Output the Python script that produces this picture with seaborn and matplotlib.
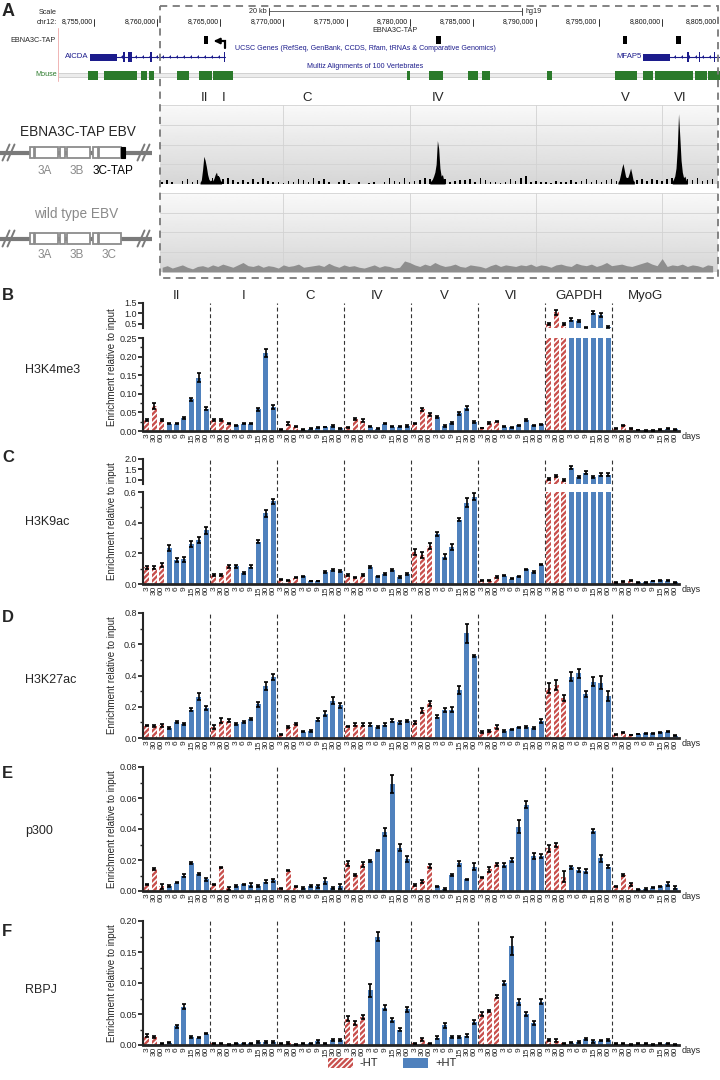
import numpy as np
import pandas as pd
import matplotlib
matplotlib.use("Agg")
import matplotlib.pyplot as plt
import seaborn as sns
from matplotlib.patches import Rectangle, Patch
from matplotlib.ticker import MultipleLocator, FormatStrFormatter, FixedLocator, NullLocator
from matplotlib.transforms import blended_transform_factory

# ======================= DATA =======================
REGIONS = ["II", "I", "C", "IV", "V", "VI", "GAPDH", "MyoG"]
DAYS = ["3", "30", "60", "3", "6", "9", "15", "30", "60"]
TREATMENT = ["-HT"] * 3 + ["+HT"] * 6

H3K4ME3 = [
    [0.03, 0.067, 0.03, 0.02, 0.02, 0.035, 0.085, 0.143, 0.06],
    [0.03, 0.03, 0.02, 0.015, 0.02, 0.02, 0.058, 0.21, 0.065],
    [0.004, 0.02, 0.012, 0.004, 0.006, 0.009, 0.011, 0.013, 0.007],
    [0.01, 0.033, 0.028, 0.012, 0.006, 0.02, 0.012, 0.012, 0.013],
    [0.02, 0.058, 0.045, 0.038, 0.013, 0.022, 0.048, 0.062, 0.025],
    [0.008, 0.022, 0.025, 0.012, 0.01, 0.015, 0.03, 0.015, 0.018],
    [0.5, 1.05, 0.5, 0.7, 0.62, 0.32, 1.03, 0.93, 0.35],
    [0.006, 0.015, 0.006, 0.003, 0.002, 0.002, 0.004, 0.006, 0.005],
]
H3K4ME3_ERR = [
    [0.002, 0.007, 0.002, 0.002, 0.002, 0.003, 0.004, 0.012, 0.004],
    [0.002, 0.002, 0.002, 0.002, 0.002, 0.002, 0.004, 0.01, 0.005],
    [0.001, 0.003, 0.002, 0.001, 0.001, 0.001, 0.001, 0.002, 0.001],
    [0.001, 0.003, 0.003, 0.002, 0.001, 0.002, 0.001, 0.002, 0.002],
    [0.001, 0.005, 0.004, 0.003, 0.002, 0.002, 0.004, 0.005, 0.003],
    [0.001, 0.002, 0.002, 0.001, 0.001, 0.001, 0.002, 0.001, 0.002],
    [0.05, 0.12, 0.05, 0.06, 0.05, 0.02, 0.07, 0.08, 0.03],
    [0.001, 0.002, 0.001, 0.001, 0.001, 0.001, 0.001, 0.001, 0.001],
]
H3K9AC = [
    [0.11, 0.105, 0.125, 0.236, 0.155, 0.16, 0.26, 0.285, 0.35],
    [0.058, 0.06, 0.115, 0.115, 0.07, 0.113, 0.275, 0.46, 0.54],
    [0.03, 0.025, 0.04, 0.05, 0.02, 0.02, 0.08, 0.09, 0.085],
    [0.06, 0.04, 0.06, 0.11, 0.05, 0.065, 0.09, 0.045, 0.065],
    [0.21, 0.19, 0.25, 0.325, 0.178, 0.243, 0.42, 0.53, 0.57],
    [0.02, 0.02, 0.045, 0.055, 0.035, 0.05, 0.095, 0.08, 0.125],
    [1.03, 1.17, 1.0, 1.59, 1.14, 1.34, 1.14, 1.25, 1.25],
    [0.01, 0.015, 0.02, 0.01, 0.01, 0.02, 0.025, 0.02, 0.01],
]
H3K9AC_ERR = [
    [0.01, 0.01, 0.015, 0.02, 0.012, 0.015, 0.02, 0.02, 0.025],
    [0.006, 0.008, 0.01, 0.01, 0.006, 0.01, 0.01, 0.025, 0.015],
    [0.003, 0.003, 0.004, 0.004, 0.002, 0.002, 0.005, 0.006, 0.005],
    [0.006, 0.004, 0.006, 0.006, 0.004, 0.005, 0.006, 0.004, 0.006],
    [0.02, 0.02, 0.02, 0.012, 0.015, 0.02, 0.01, 0.03, 0.025],
    [0.003, 0.003, 0.004, 0.005, 0.003, 0.004, 0.005, 0.005, 0.004],
    [0.05, 0.05, 0.04, 0.08, 0.05, 0.06, 0.05, 0.07, 0.08],
    [0.002, 0.002, 0.003, 0.002, 0.002, 0.002, 0.003, 0.003, 0.002],
]
H3K27AC = [
    [0.08, 0.078, 0.082, 0.066, 0.102, 0.09, 0.182, 0.265, 0.192],
    [0.07, 0.112, 0.112, 0.092, 0.1, 0.123, 0.215, 0.335, 0.39],
    [0.022, 0.072, 0.09, 0.04, 0.045, 0.118, 0.155, 0.24, 0.21],
    [0.075, 0.085, 0.085, 0.085, 0.07, 0.085, 0.11, 0.1, 0.11],
    [0.102, 0.178, 0.222, 0.137, 0.178, 0.182, 0.305, 0.67, 0.526],
    [0.04, 0.045, 0.072, 0.045, 0.055, 0.068, 0.072, 0.066, 0.11],
    [0.32, 0.34, 0.255, 0.393, 0.413, 0.28, 0.36, 0.355, 0.27],
    [0.025, 0.034, 0.019, 0.025, 0.03, 0.03, 0.036, 0.04, 0.015],
]
H3K27AC_ERR = [
    [0.005, 0.008, 0.01, 0.006, 0.008, 0.007, 0.01, 0.02, 0.01],
    [0.012, 0.015, 0.01, 0.006, 0.006, 0.008, 0.015, 0.025, 0.02],
    [0.003, 0.006, 0.006, 0.003, 0.004, 0.01, 0.015, 0.025, 0.015],
    [0.005, 0.01, 0.01, 0.01, 0.005, 0.01, 0.01, 0.008, 0.008],
    [0.01, 0.015, 0.015, 0.008, 0.012, 0.015, 0.025, 0.06, 0.008],
    [0.006, 0.006, 0.012, 0.006, 0.005, 0.005, 0.006, 0.006, 0.012],
    [0.03, 0.03, 0.02, 0.03, 0.03, 0.02, 0.03, 0.04, 0.03],
    [0.003, 0.003, 0.002, 0.002, 0.002, 0.002, 0.003, 0.003, 0.002],
]
P300 = [
    [0.004, 0.0142, 0.003, 0.0033, 0.0053, 0.0098, 0.0183, 0.0107, 0.0077],
    [0.0043, 0.0153, 0.0017, 0.0033, 0.0043, 0.0039, 0.0033, 0.006, 0.007],
    [0.0017, 0.013, 0.003, 0.002, 0.003, 0.003, 0.0066, 0.002, 0.003],
    [0.0178, 0.0103, 0.0172, 0.0194, 0.026, 0.038, 0.069, 0.028, 0.0206],
    [0.0039, 0.0064, 0.016, 0.003, 0.0012, 0.0103, 0.0178, 0.0075, 0.0158],
    [0.0086, 0.014, 0.0173, 0.017, 0.02, 0.0415, 0.0558, 0.0225, 0.0225],
    [0.0275, 0.0296, 0.0092, 0.0153, 0.0136, 0.0131, 0.0386, 0.021, 0.0158],
    [0.003, 0.0103, 0.0043, 0.0011, 0.0013, 0.0022, 0.003, 0.0045, 0.002],
]
P300_ERR = [
    [0.0004, 0.0005, 0.0015, 0.0005, 0.0004, 0.001, 0.0006, 0.0006, 0.001],
    [0.0004, 0.0005, 0.001, 0.0004, 0.0004, 0.001, 0.0004, 0.001, 0.001],
    [0.0003, 0.0004, 0.0005, 0.0004, 0.0006, 0.0008, 0.002, 0.0008, 0.0015],
    [0.0015, 0.0005, 0.0015, 0.0008, 0.0003, 0.0025, 0.006, 0.0025, 0.002],
    [0.0005, 0.001, 0.0012, 0.0005, 0.0005, 0.0005, 0.0015, 0.0005, 0.002],
    [0.0005, 0.0015, 0.001, 0.0012, 0.0012, 0.004, 0.0025, 0.002, 0.0012],
    [0.0025, 0.0015, 0.0035, 0.001, 0.0012, 0.0012, 0.0015, 0.0025, 0.001],
    [0.0003, 0.0004, 0.0008, 0.0003, 0.0004, 0.0005, 0.0004, 0.0012, 0.001],
]
RBPJ = [
    [0.015, 0.013, 0.002, 0.004, 0.03, 0.062, 0.013, 0.012, 0.018],
    [0.003, 0.002, 0.001, 0.003, 0.003, 0.003, 0.005, 0.005, 0.005],
    [0.002, 0.003, 0.001, 0.002, 0.003, 0.006, 0.002, 0.008, 0.008],
    [0.042, 0.035, 0.045, 0.088, 0.175, 0.06, 0.04, 0.025, 0.058],
    [0.003, 0.009, 0.003, 0.012, 0.032, 0.013, 0.013, 0.015, 0.037],
    [0.05, 0.055, 0.078, 0.1, 0.16, 0.07, 0.05, 0.036, 0.07],
    [0.008, 0.007, 0.003, 0.004, 0.005, 0.01, 0.006, 0.007, 0.008],
    [0.002, 0.002, 0.001, 0.002, 0.002, 0.001, 0.002, 0.003, 0.001],
]
RBPJ_ERR = [
    [0.002, 0.002, 0.001, 0.001, 0.003, 0.004, 0.002, 0.001, 0.001],
    [0.001, 0.001, 0.001, 0.001, 0.001, 0.001, 0.001, 0.001, 0.001],
    [0.001, 0.002, 0.001, 0.001, 0.001, 0.002, 0.001, 0.001, 0.001],
    [0.004, 0.003, 0.003, 0.01, 0.008, 0.004, 0.003, 0.002, 0.004],
    [0.001, 0.002, 0.001, 0.002, 0.004, 0.002, 0.002, 0.002, 0.003],
    [0.003, 0.002, 0.002, 0.004, 0.015, 0.005, 0.003, 0.003, 0.004],
    [0.002, 0.002, 0.001, 0.001, 0.001, 0.002, 0.002, 0.001, 0.002],
    [0.001, 0.001, 0.001, 0.001, 0.001, 0.001, 0.001, 0.001, 0.001],
]

# ---- genome browser data (positions in kb on chr12, hg19) ----
COORD_TICKS_KB = [8755, 8760, 8765, 8770, 8775, 8780, 8785, 8790, 8795, 8800, 8805]
COORD_LABELS = ["8,755,000", "8,760,000", "8,765,000", "8,770,000", "8,775,000", "8,780,000",
                "8,785,000", "8,790,000", "8,795,000", "8,800,000", "8,805,000"]
SCALE_BAR_KB = (8768.9, 8788.9)
TAP_SITES_KB = [(8763.7, 8764.0), (8782.1, 8782.5), (8796.9, 8797.2), (8801.1, 8801.5)]
AICDA_SPAN_KB = (8754.68, 8765.38)
AICDA_EXONS_KB = [(8754.68, 8756.82), (8757.3, 8757.45), (8757.7, 8758.0), (8759.44, 8759.6), (8765.28, 8765.38)]
MFAP5_SPAN_KB = (8798.5, 8806.0)
MFAP5_EXONS_KB = [(8798.5, 8800.6), (8802.0, 8802.12), (8802.9, 8803.02), (8804.1, 8804.2)]
MOUSE_BLOCKS_KB = [(8754.52, 8755.32), (8755.79, 8758.41), (8758.72, 8759.2), (8759.36, 8759.75),
                   (8761.57, 8762.52), (8763.32, 8764.35), (8764.43, 8766.01), (8779.79, 8780.03),
                   (8781.53, 8782.64), (8784.62, 8785.42), (8785.73, 8786.37), (8790.88, 8791.28),
                   (8796.27, 8798.01), (8798.48, 8799.28), (8799.44, 8802.45), (8802.61, 8803.56),
                   (8803.64, 8804.6)]
TRACK_GRID_KB = [8770, 8780, 8790, 8800]
TRACK_REGION_LABELS = ["II", "I", "C", "IV", "V", "VI"]
TRACK_REGION_KB = [8763.79, 8765.30, 8771.87, 8782.25, 8797.06, 8801.42]

# ChIP-seq signal (fraction of track height, in percent), sampled every 0.4 kb from 8760.4 kb
NOISE_START_KB = 8760.4
NOISE_STEP_KB = 0.4
TAP_NOISE = [2, 5, 3, 0, 4, 6, 3, 5, 4, 6, 8, 10, 6, 8, 5, 3, 5, 2, 6, 3, 8, 4, 2, 3,
             1, 4, 2, 6, 5, 3, 7, 4, 6, 3, 0, 2, 5, 1, 0, 3, 0, 1, 3, 0, 2, 7, 4, 3,
             8, 2, 4, 5, 8, 6, 6, 4, 6, 2, 4, 5, 5, 6, 3, 7, 5, 3, 2, 1, 3, 6, 4, 7,
             10, 2, 4, 2, 3, 1, 4, 2, 3, 5, 2, 4, 6, 3, 5, 2, 5, 6, 4, 6, 7, 8, 5, 6,
             4, 6, 5, 4, 6, 7, 6, 8, 6, 5, 7, 4, 5, 6]
WT_NOISE = [6, 8, 5, 7, 9, 6, 4, 7, 8, 6, 9, 7, 10, 8, 6, 9, 12, 8, 7, 9,
            6, 8, 7, 5, 9, 7, 8, 10, 6, 7, 8, 9, 7, 11, 8, 6, 9, 7, 8, 6,
            5, 7, 9, 6, 8, 7, 5, 6, 14, 12, 9, 7, 10, 8, 12, 9, 7, 8, 10, 7,
            6, 9, 8, 7, 5, 8, 10, 7, 9, 8, 7, 9, 8, 10, 7, 9, 8, 6, 9, 10,
            8, 7, 11, 9, 8, 10, 7, 9, 12, 8, 9, 10, 8, 7, 9, 11, 13, 10, 8, 17,
            7, 9, 8, 10, 7, 9, 8, 6, 9, 8]
PEAK_STEP_KB = 0.1
PEAK_STARTS_KB = [8763.4, 8781.6, 8796.5, 8800.8]
PEAK_PROFILES = [
    [0.02, 0.05, 0.18, 0.35, 0.30, 0.22, 0.12, 0.06, 0.04, 0.05, 0.04, 0.07, 0.12, 0.15, 0.08, 0.10, 0.05, 0.03],
    [0.02, 0.04, 0.06, 0.10, 0.15, 0.25, 0.55, 0.45, 0.20, 0.10, 0.12, 0.05, 0.03],
    [0.02, 0.05, 0.12, 0.20, 0.26, 0.18, 0.10, 0.07, 0.09, 0.14, 0.20, 0.13, 0.05, 0.03],
    [0.03, 0.06, 0.10, 0.20, 0.45, 0.89, 0.60, 0.30, 0.15, 0.08, 0.10, 0.05, 0.03],
]

# ======================= STYLE / LAYOUT =======================
sns.set_theme(style="ticks")
plt.rcParams["font.family"] = ["Liberation Sans", "DejaVu Sans"]
plt.rcParams["hatch.linewidth"] = 1.7

BLUE = "#4f81bd"
RED = "#c8504d"
NAVY = "#1c1c8c"
GREEN = "#2b7a2b"
HATCH = "//////"

W, H = 720, 1080
fig = plt.figure(figsize=(7.2, 10.8), dpi=100)


def rect(x0, y0, x1, y1):
    return [x0 / W, 1 - y1 / H, (x1 - x0) / W, (y1 - y0) / H]


def kb_at(px):
    return 8755 + (px - 94) / 12.625


def flat(groups):
    return [v for g in groups for v in g]


# ---------------- genome browser (panel A top) ----------------
axg = fig.add_axes(rect(0, 0, 720, 90))
axg.set_xlim(kb_at(0), kb_at(720))
axg.set_ylim(90, 0)
axg.axis("off")
axg.patch.set_alpha(0)

for kbv, lab in zip(COORD_TICKS_KB, COORD_LABELS):
    axg.text(min(kbv - 0.12, kb_at(717)), 22, lab, ha="right", va="center", fontsize=5, color="#111")
    axg.plot([kbv, kbv], [18.5, 25.5], color="#111", lw=0.6, clip_on=True)
axg.plot(SCALE_BAR_KB, [11, 11], color="#666", lw=0.7)
for kbv in SCALE_BAR_KB:
    axg.plot([kbv, kbv], [8, 14.5], color="#444", lw=0.7)
axg.text(SCALE_BAR_KB[0] - 0.2, 11.5, "20 kb", ha="right", va="center", fontsize=5.2)
axg.text(SCALE_BAR_KB[1] + 0.25, 11.5, "hg19", ha="left", va="center", fontsize=5.2)
axg.text(8778.85, 30.5, "EBNA3C-TAP", ha="center", va="center", fontsize=5.2)
for s, e in TAP_SITES_KB:
    axg.add_patch(Rectangle((s, 35.5), e - s, 8, color="black", lw=0))
axg.text(8776.5, 48.5, "UCSC Genes (RefSeq, GenBank, CCDS, Rfam, tRNAs & Comparative Genomics)",
         ha="center", va="center", fontsize=5.1, color=NAVY)
axg.text(8776.5, 66.5, "Multiz Alignments of 100 Vertebrates", ha="center", va="center",
         fontsize=5.1, color=NAVY)
# genes
for span, exons, lab in ((AICDA_SPAN_KB, AICDA_EXONS_KB, "AICDA"), (MFAP5_SPAN_KB, MFAP5_EXONS_KB, "MFAP5")):
    axg.plot(span, [57, 57], color=NAVY, lw=0.8, clip_on=True)
    chev = np.arange(span[0] + 0.4, min(span[1], kb_at(720)) - 0.2, 0.55)
    axg.plot(chev, [57] * len(chev), ls="none", marker=8, ms=2.2, color=NAVY, mew=0)
    for i, (s, e) in enumerate(exons):
        hgt = 7 if i == 0 else 10
        axg.add_patch(Rectangle((s, 57 - hgt / 2), e - s, hgt, color=NAVY, lw=0))
    axg.text(span[0] - 0.15, 57, lab, ha="right", va="center", fontsize=5.6, color=NAVY)
# mouse conservation
axg.add_patch(Rectangle((kb_at(58), 73.3), kb_at(720) - kb_at(58), 3.4, facecolor="#ececec",
                        edgecolor="#c4c4c4", lw=0.5))
for s, e in MOUSE_BLOCKS_KB:
    axg.add_patch(Rectangle((s, 70.5), e - s, 9, color=GREEN, lw=0))

# ---------------- ChIP-seq tracks ----------------
def track_axes(y0, y1):
    ax = fig.add_axes(rect(160, y0, 718, y1))
    x0, x1 = kb_at(160), kb_at(718)
    grad = np.linspace(0.84, 0.975, 64)[:, None]
    ax.imshow(grad, extent=(x0, x1, 0, 1), origin="lower", aspect="auto", cmap="gray",
              vmin=0, vmax=1, zorder=0)
    for f in (0.25, 0.5, 0.75, 1.0):
        ax.axhline(f, color="#d2d2d2", lw=0.6, zorder=1)
    for g in TRACK_GRID_KB:
        ax.axvline(g, color="#d2d2d2", lw=0.6, zorder=1)
    ax.set_xlim(x0, x1)
    ax.set_ylim(0, 1.0)
    ax.axis("off")
    return ax


noise_x = NOISE_START_KB + NOISE_STEP_KB * np.arange(len(TAP_NOISE))
at1 = track_axes(105, 184)
at1.bar(noise_x, np.array(TAP_NOISE) / 100, width=0.13, color="black", lw=0, zorder=2)
for start, prof in zip(PEAK_STARTS_KB, PEAK_PROFILES):
    px_ = start + PEAK_STEP_KB * np.arange(len(prof))
    at1.fill_between(px_, 0, prof, color="black", lw=0, zorder=3)
trans = blended_transform_factory(at1.transData, at1.transAxes)
for lab, kbv in zip(TRACK_REGION_LABELS, TRACK_REGION_KB):
    at1.text(kbv, 1.09, lab, transform=trans, ha="center", va="center", fontsize=9.5, clip_on=False)

at2 = track_axes(193, 272)
at2.fill_between(noise_x, 0, np.array(WT_NOISE) / 100, color="#8e8e8e", lw=0, zorder=2)

# ---------------- bar panels ----------------
def bar_panel(ax, groups, err_groups, ylim, major, minor, fmt, lower=True, ticks=None):
    vals = flat(groups)
    errs = flat(err_groups)
    df = pd.DataFrame({"slot": np.arange(len(vals)), "value": vals,
                       "treatment": TREATMENT * len(REGIONS)})
    sns.barplot(data=df, x="slot", y="value", hue="treatment", hue_order=["-HT", "+HT"],
                palette={"-HT": "white", "+HT": BLUE}, dodge=False, width=0.68,
                errorbar=None, saturation=1, legend=False, ax=ax, zorder=2)
    for p in ax.patches:
        if tuple(np.round(p.get_facecolor()[:3], 3)) == (1.0, 1.0, 1.0):
            p.set_edgecolor(RED)
            p.set_hatch(HATCH)
        p.set_linewidth(0)
    ax.errorbar(df["slot"], df["value"], yerr=errs, fmt="none", ecolor="black",
                elinewidth=1.2, capsize=1.5, capthick=1.2, zorder=4)
    ax.set_xlim(-0.5, len(vals) - 0.5)
    ax.set_ylim(*ylim)
    ax.set_xlabel("")
    ax.set_ylabel("")
    ax.set_facecolor("none")
    ax.spines["top"].set_visible(False)
    ax.spines["right"].set_visible(False)
    ax.spines["left"].set_linewidth(1.5)
    if ticks is not None:
        ax.yaxis.set_major_locator(FixedLocator(ticks))
        ax.yaxis.set_minor_locator(NullLocator())
    else:
        ax.yaxis.set_major_locator(MultipleLocator(major))
        ax.yaxis.set_minor_locator(MultipleLocator(minor))
    ax.yaxis.set_major_formatter(FormatStrFormatter(fmt))
    ax.tick_params(axis="y", which="major", length=3.5, width=1.3, labelsize=6.5, pad=1, left=True)
    ax.tick_params(axis="y", which="minor", length=2, width=1.0, left=True)
    if lower:
        ax.spines["bottom"].set_linewidth(2.0)
        ax.set_xticks(range(len(vals)))
        ax.set_xticklabels(DAYS * len(REGIONS), rotation=90, fontsize=6)
        ax.tick_params(axis="x", length=0, pad=1.5, bottom=True)
        ax.text(1.004, -0.012, "days", transform=ax.transAxes, ha="left", va="top", fontsize=6.5)
    else:
        ax.spines["bottom"].set_visible(False)
        ax.set_xticks([])
    return ax


def separators(ax, extend=1.0):
    for b in range(1, len(REGIONS)):
        ax.axvline(9 * b - 0.5, ymin=0, ymax=extend, color="#333", lw=0.8,
                   ls=(0, (3.5, 2.5)), zorder=1, clip_on=False)


# B: H3K4me3 (broken axis)
axB = fig.add_axes(rect(143, 338, 679, 431))
bar_panel(axB, H3K4ME3, H3K4ME3_ERR, (0, 0.25), 0.05, 0.025, "%.2f")
separators(axB, extend=(431 - 303) / (431 - 338))
axBt = fig.add_axes(rect(143, 303, 679, 328))
bar_panel(axBt, H3K4ME3, H3K4ME3_ERR, (0.3, 1.5), None, None, "%.1f", lower=False, ticks=[0.5, 1.0, 1.5])

# C: H3K9ac (broken axis)
axC = fig.add_axes(rect(143, 492, 679, 584))
bar_panel(axC, H3K9AC, H3K9AC_ERR, (0, 0.6), 0.2, 0.1, "%.1f")
separators(axC, extend=(584 - 459) / (584 - 492))
axCt = fig.add_axes(rect(143, 459, 679, 484))
bar_panel(axCt, H3K9AC, H3K9AC_ERR, (0.8, 2.0), None, None, "%.1f", lower=False, ticks=[1.0, 1.5, 2.0])

# D: H3K27ac
axD = fig.add_axes(rect(143, 613, 679, 738))
bar_panel(axD, H3K27AC, H3K27AC_ERR, (0, 0.8), 0.2, 0.1, "%.1f")
separators(axD)

# E: p300
axE = fig.add_axes(rect(143, 767, 679, 891))
bar_panel(axE, P300, P300_ERR, (0, 0.08), 0.02, 0.01, "%.2f")
separators(axE)

# F: RBPJ
axF = fig.add_axes(rect(143, 921, 679, 1045))
bar_panel(axF, RBPJ, RBPJ_ERR, (0, 0.20), 0.05, 0.025, "%.2f")
separators(axF)

# ---------------- overlay: text and schematics ----------------
axp = fig.add_axes([0, 0, 1, 1], zorder=20)
axp.set_xlim(0, W)
axp.set_ylim(H, 0)
axp.axis("off")
axp.patch.set_alpha(0)

axp.text(2, 12, "A", fontsize=13, fontweight="bold", ha="left", va="center")
axp.text(57, 12, "Scale", fontsize=5.2, ha="right", va="center")
axp.text(57, 22, "chr12:", fontsize=5.2, ha="right", va="center")
axp.text(10, 40, "EBNA3C-TAP", fontsize=5.2, ha="left", va="center")
axp.text(57, 75, "Mouse", fontsize=5.2, ha="right", va="center", color=GREEN)
axp.plot([57.5, 57.5], [28, 81], color="#f0b4b4", lw=0.7)
# TSS arrow
axp.plot([225, 225, 219], [48, 41, 41], color="black", lw=1.6, solid_joinstyle="miter")
axp.annotate("", xy=(211, 41), xytext=(220, 41),
             arrowprops=dict(arrowstyle="-|>", color="black", lw=1.6, mutation_scale=8))
# dashed zoom box
axp.add_patch(Rectangle((160, 6), 558, 272, fill=False, edgecolor="#7a7a7a", lw=1.3,
                        ls=(0, (4, 3))))

# EBV constructs
def construct(y, tap):
    axp.plot([0, 152], [y, y], color="#7a7a7a", lw=3, solid_capstyle="butt", zorder=1)
    for x in (6, 11, 141, 146):
        axp.plot([x - 3.5, x + 3.5], [y + 8, y - 8], color="#7a7a7a", lw=1.4, zorder=2)
    for s, e in ((30, 34), (60, 65), (93, 98), (35, 58), (67, 90), (99, 121)):
        axp.add_patch(Rectangle((s, y - 5.5), e - s, 11, facecolor="white", edgecolor="#8c8c8c",
                                lw=1.3, zorder=3))
    if tap:
        axp.add_patch(Rectangle((121, y - 5.5), 4, 11, facecolor="black", edgecolor="black",
                                lw=0.8, zorder=4))


construct(152.5, True)
construct(238.5, False)
axp.text(78, 132, "EBNA3C-TAP EBV", fontsize=9.8, ha="center", va="center")
axp.text(45, 170.5, "3A", fontsize=8.5, ha="center", va="center", color="#8a8a8a")
axp.text(77, 170.5, "3B", fontsize=8.5, ha="center", va="center", color="#8a8a8a")
axp.text(113, 170.5, "3C-TAP", fontsize=8.5, ha="center", va="center", color="black")
axp.text(76, 214, "wild type EBV", fontsize=9.8, ha="center", va="center", color="#8a8a8a")
axp.text(45, 254.5, "3A", fontsize=8.5, ha="center", va="center", color="#8a8a8a")
axp.text(77, 254.5, "3B", fontsize=8.5, ha="center", va="center", color="#8a8a8a")
axp.text(109, 254.5, "3C", fontsize=8.5, ha="center", va="center", color="#8a8a8a")

# panel letters, row labels, y-labels
for letter, y in (("B", 296), ("C", 458), ("D", 617), ("E", 774), ("F", 932)):
    axp.text(2, y, letter, fontsize=12, fontweight="bold", ha="left", va="center")
for lab, y in (("H3K4me3", 370), ("H3K9ac", 522), ("H3K27ac", 680), ("p300", 831), ("RBPJ", 990)):
    axp.text(25, y, lab, fontsize=9, ha="left", va="center")
for y in (367, 521, 675, 829, 983):
    axp.text(112, y, "Enrichment relative to input", fontsize=7, rotation=90,
             ha="center", va="center")
for k, reg in enumerate(REGIONS):
    axp.text(143 + 67 * k + 33.5, 296, reg, fontsize=9.5, ha="center", va="center")

# legend
handles = [Patch(facecolor="white", edgecolor=RED, hatch=HATCH, lw=0, label="-HT"),
           Patch(facecolor=BLUE, edgecolor=BLUE, lw=0, label="+HT")]
fig.legend(handles=handles, loc="center", bbox_to_anchor=(392 / W, 1 - 1063 / H), ncol=2,
           frameon=False, fontsize=8, handlelength=2.3, handleheight=1.0,
           columnspacing=2.2, handletextpad=0.6)

fig.savefig("out.png", dpi=100)
